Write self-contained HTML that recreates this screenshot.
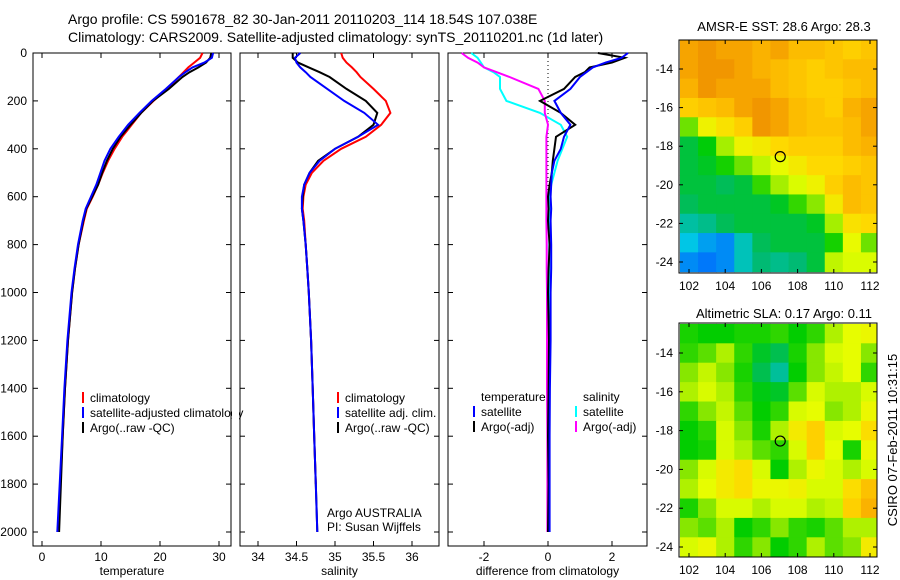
<!DOCTYPE html>
<html><head><meta charset="utf-8"><style>
body{margin:0;background:#fff;}
svg{display:block;font-family:"Liberation Sans",sans-serif;font-size:12px;}
</style></head><body>
<svg id="fig" width="900" height="580" viewBox="0 0 900 580" xmlns="http://www.w3.org/2000/svg">
<text x="68" y="24" font-size="14">Argo profile: CS 5901678_82 30-Jan-2011 20110203_114 18.54S 107.038E</text>
<text x="68" y="42" font-size="14">Climatology: CARS2009. Satellite-adjusted climatology: synTS_20110201.nc (1d later)</text>
<text x="784" y="31" font-size="13" text-anchor="middle">AMSR-E SST: 28.6 Argo: 28.3</text>
<text x="784" y="318" font-size="13" text-anchor="middle">Altimetric SLA: 0.17 Argo: 0.11</text>
<text transform="translate(897,440) rotate(-90)" font-size="13" text-anchor="middle">CSIRO 07-Feb-2011 10:31:15</text>
<g id="plots"></g>
</svg>
<script>
// ---- data ----
const depths = [0,20,40,60,80,100,150,200,250,300,350,400,450,500,550,600,650,700,800,900,1000,1200,1400,1600,1800,2000];
const tempArgo = [28.7,28.5,27.8,26.5,25,23.8,21.5,18.8,16.8,15,13.3,12,11,10.2,9.5,8.5,7.5,7,6.2,5.6,5.1,4.4,3.9,3.5,3.2,2.9];
const tempClim = [27.2,26.8,25.8,24.8,24,23.2,21.2,18.9,16.8,15.2,13.6,12.3,11.2,10.3,9.5,8.6,7.6,7.1,6.2,5.6,5.1,4.4,3.9,3.5,3.1];
const tempSat = [29,28.8,27.5,25.5,24.3,23.2,21,18.6,16.5,14.6,13,11.6,10.6,9.9,9.2,8.3,7.4,6.9,6.1,5.5,5,4.3,3.8,3.4,3.0,2.6];
const salArgo = [34.45,34.45,34.52,34.66,34.8,34.93,35.15,35.4,35.55,35.5,35.3,35.0,34.78,34.67,34.6,34.58,34.57,34.59,34.62,34.64,34.66,34.69,34.71,34.73,34.75,34.77];
const salClim = [35.08,35.1,35.15,35.22,35.28,35.33,35.5,35.66,35.72,35.6,35.4,35.08,34.85,34.7,34.62,34.59,34.58,34.6,34.62,34.64,34.66,34.69,34.71,34.73,34.75];
const salSat = [34.55,34.48,34.5,34.55,34.62,34.68,34.9,35.12,35.38,35.56,35.3,35.0,34.8,34.67,34.6,34.57,34.57,34.59,34.62,34.64,34.66,34.69,34.71,34.73,34.75,34.77];
const diffTArgo = [1.56,2.4,2.0,1.3,1.15,0.85,0.5,-0.25,0.4,0.85,0.25,0.2,0.15,0.12,0.05,0.0,0.02,0.0,0.05,0.02,0.0,0.03,0.02,0.0,0.02,0.0];
const diffTSat = [2.5,2.3,1.8,1.4,1.2,1.0,0.7,0.2,0.4,0.7,0.5,0.4,0.2,0.12,0.1,0.08,0.1,0.08,0.1,0.1,0.08,0.08,0.06,0.05,0.05,0.05];
const diffSArgo = [-2.7,-2.5,-2.2,-2.0,-1.6,-1.2,-0.3,-0.1,-0.1,0.0,-0.05,-0.05,-0.05,-0.05,-0.05,-0.05,-0.05,-0.05,-0.04,-0.04,-0.03,-0.03,-0.03,-0.02,-0.02,-0.02];
const diffSSat = [-2.4,-2.2,-2.1,-2.0,-1.7,-1.5,-1.5,-1.3,-0.25,0.4,0.6,0.45,0.3,0.2,0.1,0.05,0.05,0.05,0.04,0.04,0.04,0.03,0.03,0.03,0.03,0.02];
const depthTicks = [0,200,400,600,800,1000,1200,1400,1600,1800,2000];
const tempTicks = [0,10,20,30];
const salTicks = [34,34.5,35,35.5,36];
const diffTicks = [-2,0,2];
const lonTicks = [102,104,106,108,110,112];
const latTicks = [-14,-16,-18,-20,-22,-24];
const gridLons = [102,103,104,105,106,107,108,109,110,111,112];
const gridLats = [-13,-14,-15,-16,-17,-18,-19,-20,-21,-22,-23,-24];
const sstGrid = [
[29,29.1,29,29,28.9,29,28.8,28.8,28.7,28.6,28.7],
[29,29.1,29.1,29,28.9,28.8,28.7,28.6,28.7,28.8,28.8],
[28.9,29.1,29,29,29,28.8,28.7,28.6,28.6,28.7,28.8],
[28.6,28.7,28.8,29,29.1,29,28.8,28.7,28.6,28.9,29],
[27.6,28.2,28.4,28.6,29.1,29,28.8,28.7,28.7,28.8,29],
[27,27.2,27.8,28.2,28.3,28.5,28.6,28.6,28.6,28.8,28.9],
[27,27.1,27.3,27.6,27.9,28.1,28.3,28.5,28.5,28.6,28.7],
[27,27,26.9,27,27.4,27.8,28,28.2,28.6,28.8,28.7],
[26.9,27,27,27,27,27.1,27.4,27.7,28.3,28.8,28.7],
[26.6,26.7,26.9,27,27,27,27,27.1,27.8,28.4,28.5],
[26.3,26.1,26,26.5,26.9,27,27,27,27.3,28.1,27.6],
[26,25.9,26,26.5,26.8,26.7,26.8,27,27.9,28,28]];
const slaGrid = [
[.05,.04,.04,.05,.05,.06,.04,.06,.12,.15,.16],
[.06,.08,.12,.06,.02,0,.05,.1,.14,.15,.1],
[.1,.13,.1,.05,0,-.04,.04,.1,.13,.15,.06],
[.12,.14,.12,.06,.03,.02,.08,.14,.12,.12,.14],
[.06,.1,.13,.08,.04,.06,.14,.15,.1,.12,.16],
[.04,.06,.14,.1,.05,.12,.18,.22,.14,.15,.2],
[.04,.05,.14,.12,.08,.06,.14,.22,.15,.05,.16],
[.1,.14,.18,.2,.14,.04,.12,.16,.14,.12,.14],
[.12,.15,.18,.2,.16,.16,.17,.14,.14,.2,.24],
[.05,.1,.14,.14,.12,.14,.14,.12,.13,.22,.26],
[.1,.08,.12,.04,.06,.1,.06,.05,.08,.12,.12],
[.14,.16,.12,.06,.1,.04,.06,.12,.08,.1,.18]];
const argoLon = 107.04, argoLat = -18.54;

const NS='http://www.w3.org/2000/svg';
const root=document.getElementById('plots');
function mk(tag,attrs,parent){const e=document.createElementNS(NS,tag);for(const k in attrs)e.setAttribute(k,attrs[k]);(parent||root).appendChild(e);return e;}
const yD = d => 53 + d*0.2395;
function panel(name,x0,x1,xs,ticks,fmt,xlabel,showY){
  const g=mk('g',{});
  
  
  mk('rect',{x:x0,y:53,width:x1-x0,height:493,fill:'none',stroke:'#000','stroke-width':1},g);
  ticks.forEach(t=>{const x=xs(t);
    mk('line',{x1:x,x2:x,y1:53,y2:58,stroke:'#000'},g);mk('line',{x1:x,x2:x,y1:546,y2:541,stroke:'#000'},g);
    const tx=mk('text',{x:x,y:561,'text-anchor':'middle'},g);tx.textContent=fmt(t);
    
    });
  depthTicks.forEach(d=>{const y=yD(d);
    mk('line',{x1:x0,x2:x0+5,y1:y,y2:y,stroke:'#000'},g);mk('line',{x1:x1,x2:x1-5,y1:y,y2:y,stroke:'#000'},g);
    if(showY){const tx=mk('text',{x:27,y:y+4,'text-anchor':'end'},g);tx.textContent=d;
    
    }});
  const xl=mk('text',{x:(x0+x1)/2,y:575,'text-anchor':'middle'},g);xl.textContent=xlabel;
  
  
  return g;
}
function line(g,xs,vals,color,name){
  const pts=vals.map((v,i)=>xs(v).toFixed(1)+','+yD(depths[i]).toFixed(1)).join(' ');
  const p=mk('polyline',{points:pts,fill:'none',stroke:color,'stroke-width':2},g);
  
  
}
function legend(g,x,y,color,label){
  if(color) mk('rect',{x:x,y:y-10,width:2,height:11,fill:color},g);
  const t=mk('text',{x:x+8,y:y},g);t.textContent=label;
  
  
}
const xT=t=>42+t*5.9;
const g1=panel('temperature-panel',33,231,xT,tempTicks,t=>t,'temperature',true);
line(g1,xT,tempClim,'#f00','climatology-temp-line');
line(g1,xT,tempArgo,'#000','argo-temp-line');
line(g1,xT,tempSat,'#00f','satellite-temp-line');
legend(g1,82,402,'#f00','climatology');
legend(g1,82,417,'#00f','satellite-adjusted climatology');
legend(g1,82,432,'#000','Argo(..raw -QC)');
mk('rect',{x:232,y:380,width:7,height:60,fill:'#fff'});
const xS=s=>258+(s-34)*77;
const g2=panel('salinity-panel',240,439,xS,salTicks,s=>s,'salinity',false);
line(g2,xS,salClim,'#f00','climatology-sal-line');
line(g2,xS,salArgo,'#000','argo-sal-line');
line(g2,xS,salSat,'#00f','satellite-sal-line');
legend(g2,337,402,'#f00','climatology');
legend(g2,337,417,'#00f','satellite adj. clim.');
legend(g2,337,432,'#000','Argo(..raw -QC)');
let a=mk('text',{x:327,y:517},g2);a.textContent='Argo AUSTRALIA';
let b=mk('text',{x:327,y:531},g2);b.textContent='PI: Susan Wijffels';
const xDf=v=>548+v*32;
const g3=panel('difference-panel',448,647,xDf,diffTicks,v=>v,'difference from climatology',false);
mk('line',{x1:548,x2:548,y1:53,y2:190,stroke:'#000','stroke-dasharray':'1,3'},g3);
line(g3,xDf,diffSSat,'#0ff','salinity-satellite-diff-line');
line(g3,xDf,diffSArgo,'#f0f','salinity-argo-diff-line');
line(g3,xDf,diffTArgo,'#000','temperature-argo-diff-line');
line(g3,xDf,diffTSat,'#00f','temperature-satellite-diff-line');
legend(g3,473,401,null,'temperature');
legend(g3,473,416,'#00f','satellite');
legend(g3,473,431,'#000','Argo(-adj)');
legend(g3,575,401,null,'salinity');
legend(g3,575,416,'#0ff','satellite');
legend(g3,575,431,'#f0f','Argo(-adj)');
const stops=[[0,[0,100,255]],[0.15,[0,200,230]],[0.3,[0,185,110]],[0.42,[0,205,0]],[0.55,[130,230,0]],[0.66,[230,255,0]],[0.8,[255,215,0]],[0.92,[250,175,0]],[1,[235,135,0]]];
function cmap(t){t=Math.max(0,Math.min(1,t));for(let i=1;i<stops.length;i++){if(t<=stops[i][0]){const [t0,c0]=stops[i-1],[t1,c1]=stops[i];const f=(t-t0)/(t1-t0);return 'rgb('+c0.map((c,k)=>Math.round(c+(c1[k]-c)*f)).join(',')+')';}}return 'rgb(235,135,0)';}
function map(name,top,bottom,latY,grid,norm){
  const g=mk('g',{});
  
  
  const xL=l=>689+(l-102)*18.1;
  const L=679,R=877;
  grid.forEach((row,r)=>row.forEach((v,c)=>{
    const x=Math.max(L,xL(gridLons[c]-0.5)),x2=Math.min(R,xL(gridLons[c]+0.5));
    const y=Math.max(top,latY(gridLats[r]+0.5)),y2=Math.min(bottom,latY(gridLats[r]-0.5));
    const cell=mk('rect',{x:x,y:y,width:x2-x+0.5,height:y2-y+0.5,fill:cmap(norm(v))},g);
    
    
  }));
  mk('rect',{x:L,y:top,width:R-L,height:bottom-top,fill:'none',stroke:'#000'},g);
  lonTicks.forEach(l=>{const x=xL(l);mk('line',{x1:x,x2:x,y1:bottom,y2:bottom-4,stroke:'#000'},g);mk('line',{x1:x,x2:x,y1:top,y2:top+4,stroke:'#000'},g);
    const t=mk('text',{x:x,y:bottom+17,'text-anchor':'middle'},g);t.textContent=l;
    
    });
  latTicks.forEach(l=>{const y=latY(l);mk('line',{x1:L,x2:L+4,y1:y,y2:y,stroke:'#000'},g);mk('line',{x1:R,x2:R-4,y1:y,y2:y,stroke:'#000'},g);
    const t=mk('text',{x:L-6,y:y+4,'text-anchor':'end'},g);t.textContent=l;
    
    });
  const c=mk('circle',{cx:xL(argoLon),cy:latY(argoLat),r:5,fill:'none',stroke:'#000','stroke-width':1.2},g);
  
  
}
map('sst-map',40,273,l=>69+(-14-l)*19.3,sstGrid,v=>(v-25.8)/3.4);
map('sla-map',323,557,l=>353+(-14-l)*19.4,slaGrid,v=>(v+0.15)/0.45);
</script>
</body></html>
